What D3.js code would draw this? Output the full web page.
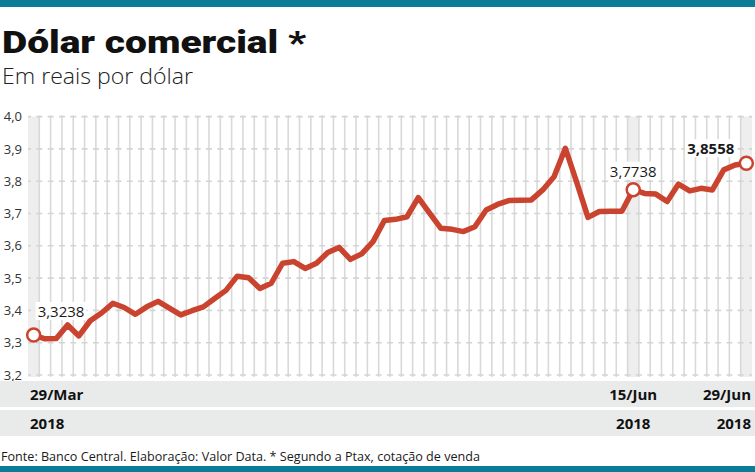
<!DOCTYPE html>
<html>
<head>
<meta charset="utf-8">
<script src="https://cdn.jsdelivr.net/npm/d3@7"></script>
<style>
  body { margin: 0; background: #fff; }
  svg { display: block; font-family: "Open Sans", sans-serif; }
</style>
</head>
<body>
<div id="chart"></div>
<script>
// dias úteis (Ptax) de 29/03 a 29/06/2018
const dates = ["29/03",
  "02/04","03/04","04/04","05/04","06/04","09/04","10/04","11/04","12/04","13/04",
  "16/04","17/04","18/04","19/04","20/04","23/04","24/04","25/04","26/04","27/04","30/04",
  "02/05","03/05","04/05","07/05","08/05","09/05","10/05","11/05","14/05","15/05",
  "16/05","17/05","18/05","21/05","22/05","23/05","24/05","25/05","28/05","29/05","30/05",
  "01/06","04/06","05/06","06/06","07/06","08/06","11/06","12/06","13/06","14/06","15/06",
  "18/06","19/06","20/06","21/06","22/06","25/06","26/06","27/06","28/06","29/06"];

const values = [3.3238,
  3.312, 3.313, 3.355, 3.321, 3.368, 3.392, 3.422, 3.409, 3.388, 3.411,
  3.428, 3.407, 3.386, 3.399, 3.411, 3.437, 3.462, 3.506, 3.501, 3.468, 3.484,
  3.546, 3.551, 3.530, 3.546, 3.579, 3.595, 3.558, 3.575, 3.613, 3.678,
  3.682, 3.690, 3.749, 3.701, 3.654, 3.651, 3.644, 3.659, 3.711, 3.728, 3.740,
  3.741, 3.742, 3.773, 3.814, 3.902, 3.797, 3.688, 3.706, 3.707, 3.707, 3.7738,
  3.762, 3.760, 3.737, 3.791, 3.770, 3.778, 3.773, 3.835, 3.850, 3.8558];

const yTicks = [3.2, 3.3, 3.4, 3.5, 3.6, 3.7, 3.8, 3.9, 4.0];
const tickDates = ["29/03", "15/06", "29/06"];
const tickLabels = ["29/Mar", "15/Jun", "29/Jun"];
const yearLabels = ["2018", "2018", "2018"];
const highlighted = ["29/03", "15/06", "29/06"];   // pontos com valor escrito

function init() {
    const w = 755, h = 472;
    const red = "#c9432f";

    const pt = d3.formatLocale({ decimal: ",", thousands: ".", grouping: [3], currency: ["R$", ""] });
    const fmt1 = pt.format(".1f");
    const fmt4 = pt.format(".4f");

    const svg = d3.select("#chart").append("svg")
        .attr("width", w)
        .attr("height", h);

    // faixas azuis em cima e em baixo
    svg.append("rect").attr("x", 0).attr("y", 0).attr("width", w).attr("height", 7).attr("fill", "#0b7d98");
    svg.append("rect").attr("x", 0).attr("y", 466).attr("width", w).attr("height", 6).attr("fill", "#0b7d98");

    // titulo
    svg.append("text")
        .attr("x", 2).attr("y", 53)
        .attr("textLength", 304).attr("lengthAdjust", "spacingAndGlyphs")
        .style("font-family", "Roboto, sans-serif")
        .style("font-weight", 900)
        .style("font-size", "32px")
        .attr("fill", "#111")
        .text("Dólar comercial *");

    svg.append("text")
        .attr("x", 2).attr("y", 84)
        .attr("textLength", 191).attr("lengthAdjust", "spacingAndGlyphs")
        .style("font-weight", 300)
        .style("font-size", "22px")
        .attr("fill", "#222")
        .text("Em reais por dólar");

    // escalas
    const x = d3.scaleBand()
        .domain(dates)
        .range([28, 752])
        .padding(0);
    const bw = x.bandwidth();
    const cx = d => x(d) + bw / 2;

    const y = d3.scaleLinear()
        .domain([3.2, 4.0])
        .range([375, 116.6]);

    // colunas destacadas
    svg.append("g").selectAll("rect")
        .data(highlighted)
        .join("rect")
        .attr("x", d => x(d))
        .attr("y", y(4.0))
        .attr("width", bw)
        .attr("height", y(3.2) - y(4.0) + 2)
        .attr("fill", "#eeeeee");

    // linhas verticais nas divisas das colunas
    svg.append("g").selectAll("line")
        .data(dates.slice(1))
        .join("line")
        .attr("x1", d => x(d)).attr("x2", d => x(d))
        .attr("y1", y(4.0) - 1).attr("y2", y(3.2) + 2)
        .attr("stroke", "#d9d9d9")
        .attr("stroke-width", 1.6);

    // linhas horizontais tracejadas
    const dash = 6;
    svg.append("g").selectAll("line")
        .data(yTicks)
        .join("line")
        .attr("x1", 28).attr("x2", 752)
        .attr("y1", d => y(d)).attr("y2", d => y(d))
        .attr("stroke", "#d4d4d4")
        .attr("stroke-width", 1.6)
        .attr("stroke-dasharray", dash + "," + (bw - dash))
        .attr("stroke-dashoffset", dash / 2);

    // eixo y
    const yAxis = svg.append("g")
        .attr("transform", "translate(25,0)")
        .call(d3.axisLeft(y).tickValues(yTicks).tickSize(0).tickPadding(3).tickFormat(fmt1));
    yAxis.select(".domain").remove();
    yAxis.selectAll("text")
        .style("font-family", "'Open Sans', sans-serif")
        .style("font-size", "13px")
        .attr("fill", "#333");

    // linha da serie
    const line = d3.line()
        .x((d, i) => cx(dates[i]))
        .y(d => y(d));

    svg.append("path")
        .datum(values)
        .attr("d", line)
        .attr("fill", "none")
        .attr("stroke", red)
        .attr("stroke-width", 5.5)
        .attr("stroke-linejoin", "round")
        .attr("stroke-linecap", "round");

    // valores escritos
    const notes = [
        { dx: 4, dy: -18, anchor: "start", bold: false },
        { dx: 0, dy: -13, anchor: "middle", bold: false },
        { dx: -12, dy: -9, anchor: "end", bold: true }
    ];
    highlighted.forEach(function (d, k) {
        const i = dates.indexOf(d);
        const px = cx(d), py = y(values[i]);
        const g = svg.append("g");
        const bg = g.append("rect").attr("fill", "#fff");
        const t = g.append("text")
            .attr("x", px + notes[k].dx)
            .attr("y", py + notes[k].dy)
            .attr("text-anchor", notes[k].anchor)
            .style("font-size", "15px")
            .style("font-weight", notes[k].bold ? 700 : 400)
            .attr("fill", "#1a1a1a")
            .text(fmt4(values[i]));
        const b = t.node().getBBox();
        bg.attr("x", b.x - 2).attr("y", b.y + 1).attr("width", b.width + 4).attr("height", b.height - 2);
    });

    svg.append("g").selectAll("circle")
        .data(highlighted)
        .join("circle")
        .attr("cx", d => cx(d))
        .attr("cy", d => y(values[dates.indexOf(d)]))
        .attr("r", 6.5)
        .attr("fill", "#fff")
        .attr("stroke", red)
        .attr("stroke-width", 2.5);

    // faixas de datas embaixo
    svg.append("rect").attr("x", 0).attr("y", 381).attr("width", w).attr("height", 26).attr("fill", "#e9ebeb");
    svg.append("rect").attr("x", 0).attr("y", 410).attr("width", w).attr("height", 26).attr("fill", "#e9ebeb");

    function labelX(d, k) {
        if (k === 0) return x(d) + 2;
        if (k === tickDates.length - 1) return 751;
        return cx(d);
    }
    function labelAnchor(k) {
        if (k === 0) return "start";
        if (k === tickDates.length - 1) return "end";
        return "middle";
    }

    svg.append("g").selectAll("text")
        .data(tickDates)
        .join("text")
        .attr("x", (d, k) => labelX(d, k))
        .attr("y", 400)
        .attr("text-anchor", (d, k) => labelAnchor(k))
        .style("font-size", "15px")
        .style("font-weight", 700)
        .attr("fill", "#111")
        .text((d, k) => tickLabels[k]);

    svg.append("g").selectAll("text")
        .data(tickDates)
        .join("text")
        .attr("x", (d, k) => labelX(d, k))
        .attr("y", 428.5)
        .attr("text-anchor", (d, k) => labelAnchor(k))
        .style("font-size", "15px")
        .style("font-weight", 700)
        .attr("fill", "#111")
        .text((d, k) => yearLabels[k]);

    // fonte
    svg.append("text")
        .attr("x", 1).attr("y", 461)
        .attr("textLength", 479).attr("lengthAdjust", "spacingAndGlyphs")
        .style("font-size", "13.5px")
        .attr("fill", "#1a1a1a")
        .text("Fonte: Banco Central. Elaboração: Valor Data. * Segundo a Ptax, cotação de venda");
}

window.addEventListener('load', init);
</script>
</body>
</html>
